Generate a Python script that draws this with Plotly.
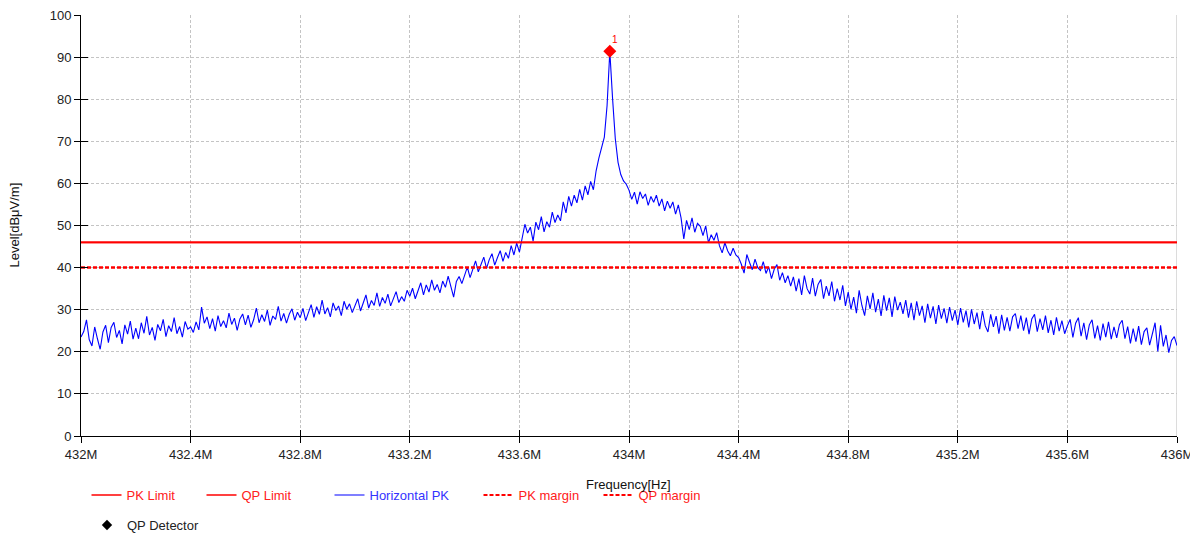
import numpy as np
import plotly.graph_objects as go

# ---------------- data ----------------
f_start_mhz = 432.0
f_step_mhz = 0.01

level_dbuv = [
    # 432.00 - 432.19
    23.5, 24.8, 27.6, 22.9, 21.4, 25.9, 23.1, 20.6, 24.7, 26.3, 22.2, 25.8, 27.0, 23.4, 25.1, 21.9, 26.4, 24.2, 27.3, 23.0,
    # 432.20 - 432.39
    25.6, 23.1, 26.9, 24.4, 28.4, 24.0, 25.8, 22.7, 26.5, 25.0, 27.7, 23.6, 26.2, 24.8, 28.1, 24.3, 26.0, 23.5, 27.2, 25.4,
    # 432.40 - 432.59
    25.9, 24.6, 27.1, 25.2, 30.6, 26.8, 28.3, 25.5, 27.9, 24.9, 28.6, 26.0, 27.4, 25.7, 29.2, 26.5, 28.0, 25.1, 27.8, 29.0,
    # 432.60 - 432.79
    26.4, 28.7, 25.8, 27.6, 30.4, 26.9, 28.8, 27.2, 29.9, 26.3, 28.5, 27.7, 30.8, 27.3, 29.1, 26.8, 28.9, 30.2, 27.5, 29.4,
    # 432.80 - 432.99
    28.1, 30.3, 27.4, 29.6, 31.2, 28.2, 30.7, 28.9, 32.3, 29.0, 30.5, 28.3, 31.6, 29.8, 30.9, 28.6, 32.0, 30.1, 31.4, 29.3,
    # 433.00 - 433.19
    31.0, 32.6, 29.7, 31.8, 33.5, 30.4, 32.2, 31.0, 34.0, 30.8, 32.9, 31.5, 33.7, 30.9, 32.4, 34.3, 31.7, 33.1, 32.0, 34.6,
    # 433.20 - 433.39
    33.2, 35.1, 32.6, 34.8, 36.4, 33.5, 35.9, 34.2, 37.1, 34.6, 36.0, 34.0, 36.8, 35.3, 38.0, 35.5, 33.0, 36.7, 37.9, 36.2,
    # 433.40 - 433.59
    38.3, 40.1, 37.6, 39.9, 41.6, 39.0, 40.7, 42.5, 39.8, 41.9, 43.3, 40.6, 42.4, 44.0, 41.5, 43.6, 42.2, 45.2, 43.0, 45.8,
    # 433.60 - 433.79
    43.7, 47.5, 50.3, 48.2, 49.6, 46.3, 50.8, 49.0, 52.1, 48.5, 50.9, 49.6, 53.2, 50.7, 52.5, 51.1, 55.6, 53.0, 56.9, 54.6,
    # 433.80 - 433.99
    57.2, 55.4, 58.6, 56.0, 59.4, 57.3, 60.5, 58.5, 63.0, 66.0, 68.5, 71.0, 78.5, 91.4, 80.2, 70.6, 65.0, 62.1, 60.6, 59.8,
    # 434.00 - 434.19
    58.4, 56.2, 57.9, 55.1, 58.0, 56.4, 57.5, 54.8, 56.9, 55.5, 57.2, 54.6, 56.3, 53.5, 55.8, 54.1, 55.6, 52.7, 54.9, 51.8,
    # 434.20 - 434.39
    46.8, 51.2, 49.0, 51.8, 48.4, 50.5, 49.8, 47.6, 49.9, 45.9, 47.8, 46.5, 48.3, 45.2, 43.5, 45.9, 44.0, 42.8, 44.6, 43.0,
    # 434.40 - 434.59
    42.4, 40.8, 38.7, 43.1, 41.2, 39.5, 42.0, 40.0, 39.3, 41.4, 38.6, 40.2, 37.4, 39.6, 40.7, 37.0, 38.8, 36.4, 38.1, 35.6,
    # 434.60 - 434.79
    37.8, 34.4, 37.4, 33.5, 38.1, 35.0, 33.7, 37.5, 33.2, 36.0, 37.2, 32.6, 35.6, 33.3, 36.7, 32.0, 35.0, 32.3, 35.8, 30.9,
    # 434.80 - 434.99
    34.2, 30.1, 33.0, 29.2, 34.6, 31.0, 28.6, 33.3, 30.2, 34.0, 29.4, 32.5, 28.5, 33.4, 29.8, 32.8, 28.3, 33.1, 29.9, 31.8,
    # 435.00 - 435.19
    29.0, 32.3, 28.1, 31.6, 27.5, 32.0, 28.6, 30.9, 26.9, 31.4, 28.0, 30.8, 26.6, 31.1, 27.9, 30.3, 26.8, 30.6, 27.4, 29.9,
    # 435.20 - 435.39
    26.4, 30.4, 27.0, 29.8, 25.8, 30.1, 26.6, 29.3, 25.4, 29.7, 26.2, 24.7, 28.9, 25.9, 28.5, 24.3, 28.8, 25.1, 28.2, 24.9,
    # 435.40 - 435.59
    28.3, 29.1, 25.5, 28.6, 25.0, 28.1, 24.2, 27.8, 28.9, 24.8, 27.9, 25.2, 28.6, 24.5, 27.5, 24.0, 28.2, 24.9, 27.4, 24.3,
    # 435.60 - 435.79
    26.2, 27.7, 23.4, 26.8, 28.1, 23.7, 26.9, 22.9, 26.4, 27.6, 23.2, 26.2, 22.7, 26.7, 23.5, 27.1, 23.0, 25.9, 23.3, 26.5,
    # 435.80 - 436.00
    27.5, 23.1, 26.0, 22.0, 25.5, 22.4, 26.1, 21.7, 24.8, 25.7, 21.6, 24.5, 26.9, 20.1, 26.3, 21.3, 24.0, 19.8, 22.7, 23.6,
    21.5,
]

limit_freq_hz = [432.0e6, 436.0e6]
pk_limit = [46, 46]
qp_limit = [46, 46]
pk_margin = [40, 40]
qp_margin = [40, 40]

peak_freq_hz = [433.93e6]
peak_level = [91.4]
peak_label = ["1"]

x_tickvals = [432.0e6, 432.4e6, 432.8e6, 433.2e6, 433.6e6, 434.0e6, 434.4e6, 434.8e6, 435.2e6, 435.6e6, 436.0e6]
x_ticktext = ["432M", "432.4M", "432.8M", "433.2M", "433.6M", "434M", "434.4M", "434.8M", "435.2M", "435.6M", "436M"]
y_tickvals = [0, 10, 20, 30, 40, 50, 60, 70, 80, 90, 100]

freq_hz = (f_start_mhz + f_step_mhz * np.arange(len(level_dbuv))) * 1e6

# ---------------- layout helpers ----------------
# the page body adds an 8px offset, so the figure is drawn 8px smaller
OFF = 8
W, H = 1198 - OFF, 536 - OFF
PLOT_L, PLOT_R, PLOT_T, PLOT_B = 81, 1177, 15, 436  # in window pixels
ML = PLOT_L - OFF
MT = PLOT_T - OFF
PW = PLOT_R - PLOT_L
PH = PLOT_B - PLOT_T
MR = W - ML - PW
MB = H - MT - PH


def px_x(px):
    return (px - PLOT_L) / PW


def px_y(py):
    return (PLOT_B - py) / PH


FONT = "Liberation Sans, Arial, sans-serif"
RED = "#ff0000"
BLUE = "#0000ff"

fig = go.Figure()

fig.add_trace(go.Scatter(
    x=freq_hz, y=level_dbuv, mode="lines", name="<span style='color:#3333ff'>Horizontal PK</span>",
    line=dict(color=BLUE, width=1.1), legend="legend3",
))
fig.add_trace(go.Scatter(
    x=limit_freq_hz, y=pk_limit, mode="lines", name="<span style='color:#ff2020'>PK Limit</span>",
    line=dict(color=RED, width=1.6), legend="legend",
))
fig.add_trace(go.Scatter(
    x=limit_freq_hz, y=qp_limit, mode="lines", name="<span style='color:#ff2020'>QP Limit</span>",
    line=dict(color=RED, width=1.6), legend="legend2",
))
fig.add_trace(go.Scatter(
    x=limit_freq_hz, y=pk_margin, mode="lines", name="<span style='color:#ff2020'>PK margin</span>",
    line=dict(color=RED, width=2, dash="4px,2px"), legend="legend4",
))
fig.add_trace(go.Scatter(
    x=limit_freq_hz, y=qp_margin, mode="lines", name="<span style='color:#ff2020'>QP margin</span>",
    line=dict(color=RED, width=2, dash="4px,2px"), legend="legend5", yaxis="y2",
))
fig.add_trace(go.Scatter(
    x=[None], y=[None], mode="markers", name="QP Detector",
    marker=dict(symbol="diamond", color="black", size=8), legend="legend6",
))
fig.add_trace(go.Scatter(
    x=peak_freq_hz, y=peak_level, mode="markers",
    marker=dict(symbol="diamond", color=RED, size=10), showlegend=False, xaxis="x2",
))
for fx, ly, lab in zip(peak_freq_hz, peak_level, peak_label):
    fig.add_annotation(x=fx, y=ly, text=lab, showarrow=False, xshift=5, yshift=12,
                       font=dict(color=RED, size=10, family=FONT))

grid = dict(showgrid=True, gridcolor="#c4c4c4", griddash="3px,2px", gridwidth=1)

fig.update_layout(
    width=W, height=H,
    margin=dict(l=ML, r=MR, t=MT, b=MB, autoexpand=False),
    paper_bgcolor="white", plot_bgcolor="white",
    font=dict(family=FONT, size=13, color="#222222"),
    xaxis=dict(
        range=[432.0e6, 436.0e6], tickmode="array", tickvals=x_tickvals, ticktext=x_ticktext,
        ticks="outside", ticklen=6, tickwidth=1, tickcolor="black",
        showline=True, linecolor="black", linewidth=1, zeroline=False,
        tickfont=dict(size=13, color="#222222"), ticklabeloverflow="allow", **grid,
    ),
    yaxis=dict(
        range=[0, 100], tickmode="array", tickvals=y_tickvals,
        ticks="outside", ticklen=6, tickwidth=1, tickcolor="black",
        showline=True, linecolor="black", linewidth=1, zeroline=False,
        tickfont=dict(size=13, color="#222222"), ticklabeloverflow="allow", **grid,
    ),
    xaxis2=dict(
        range=[432.0e6, 436.0e6], overlaying="x", anchor="y", side="bottom",
        tickmode="array", tickvals=x_tickvals, ticks="inside", ticklen=6, tickwidth=1,
        tickcolor="black", showticklabels=False, showgrid=False, showline=False, zeroline=False,
    ),
    yaxis2=dict(
        range=[0, 100], overlaying="y", anchor="x", side="left",
        tickmode="array", tickvals=y_tickvals, ticks="inside", ticklen=7, tickwidth=1,
        tickcolor="black", showticklabels=False, showgrid=False, showline=False, zeroline=False,
    ),
    showlegend=True,
)

leg_common = dict(orientation="h", yanchor="middle", xanchor="left", bgcolor="rgba(0,0,0,0)",
                  borderwidth=0, font=dict(size=13, family=FONT, color="#222222"))
fig.update_layout(
    legend=dict(x=px_x(86.5), y=px_y(495), **leg_common),
    legend2=dict(x=px_x(201.5), y=px_y(495), **leg_common),
    legend3=dict(x=px_x(329.5), y=px_y(495), **leg_common),
    legend4=dict(x=px_x(478.5), y=px_y(495), **leg_common),
    legend5=dict(x=px_x(598.5), y=px_y(495), **leg_common),
    legend6=dict(x=px_x(87), y=px_y(525), **leg_common),
)

fig.add_shape(type="line", xref="x", yref="paper", x0=436.0e6, x1=436.0e6, y0=0, y1=1,
              line=dict(color="#d0d0d0", width=1.5), layer="below")

fig.add_annotation(text="Frequency[Hz]", xref="paper", yref="paper", x=px_x(628), y=px_y(484),
                   showarrow=False, xanchor="center", yanchor="middle",
                   font=dict(size=13, color="#111111", family=FONT))
fig.add_annotation(text="Level[dBμV/m]", xref="paper", yref="paper", x=px_x(14), y=0.5,
                   showarrow=False, xanchor="center", yanchor="middle", textangle=-90,
                   font=dict(size=13, color="#111111", family=FONT))

fig.write_html("out.html")
